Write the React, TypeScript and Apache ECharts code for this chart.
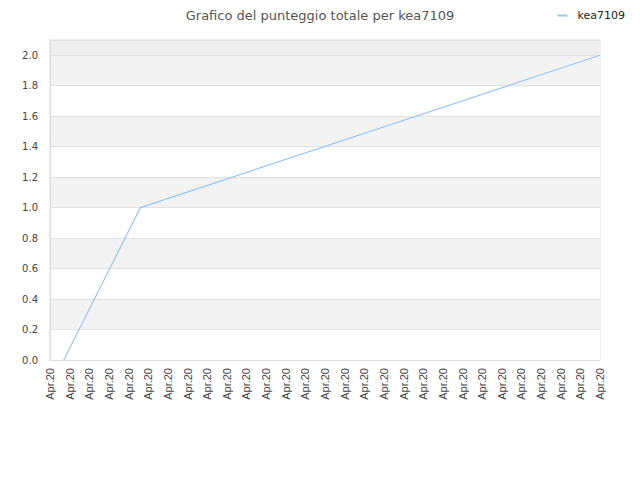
import * as echarts from 'echarts';
import React, { useEffect, useRef } from 'react';

const seriesName = 'kea7109';
const xLabels = Array.from({ length: 29 }, () => 'Apr.20');
const xPositions = [0.7, 4.6, 28];
const scores = [0, 1, 2];

const bandColors = ['#ffffff', '#f3f3f3', '#ffffff', '#f3f3f3', '#ffffff', '#f3f3f3',
  '#ffffff', '#f3f3f3', '#ffffff', '#f3f3f3', '#eeeeee'];

const App: React.FC = () => {
  const chartRef = useRef<HTMLDivElement>(null);

  useEffect(() => {
    const myChart = echarts.init(chartRef.current!, undefined, { renderer: 'svg' });

    const option = {
      animation: false,
      title: {
        text: 'Grafico del punteggio totale per ' + seriesName,
        left: 'center',
        top: -4,
        textStyle: { fontFamily: 'DejaVu Sans', fontSize: 13, fontWeight: 'normal', color: '#555', letterSpacing: 0.3 },
      },
      legend: {
        right: 2,
        top: -3,
        itemWidth: 10,
        itemHeight: 2,
        icon: 'rect',
        textStyle: { fontFamily: 'DejaVu Sans', fontSize: 11, color: '#222', padding: [0, 0, 0, 5] },
        data: [seriesName],
      },
      grid: {
        left: 42,
        right: 32,
        top: 32,
        bottom: 120,
        show: true,
        borderColor: '#dddddd',
        borderWidth: 1,
        backgroundColor: 'transparent',
      },
      xAxis: {
        type: 'value',
        min: 0,
        max: xLabels.length - 1,
        interval: 1,
        axisLine: { show: true, lineStyle: { color: '#dddddd' } },
        axisTick: { show: false },
        splitLine: { show: false },
        axisLabel: {
          rotate: 90,
          margin: 8,
          fontFamily: 'Liberation Sans',
          fontSize: 11,
          color: '#444',
          formatter: (v: number) => xLabels[Math.round(v)] ?? '',
        },
      },
      yAxis: {
        type: 'value',
        min: 0,
        max: 2.1,
        interval: 0.2,
        axisLine: { show: true, lineStyle: { color: '#dddddd' } },
        axisTick: { show: false },
        splitLine: { show: true, lineStyle: { color: '#e2e2e2' } },
        splitArea: { show: true, areaStyle: { color: bandColors } },
        axisLabel: {
          fontFamily: 'DejaVu Sans',
          fontSize: 10,
          color: '#444',
          margin: 12,
          formatter: (v: number) => (v > 2.05 ? '' : v.toFixed(1)),
        },
      },
      series: [
        {
          name: seriesName,
          type: 'line',
          data: xPositions.map((x, i) => [x, scores[i]]),
          showSymbol: false,
          symbol: 'none',
          lineStyle: { color: '#99c5f2', width: 1.2 },
          itemStyle: { color: '#99c5f2' },
        },
      ],
    };

    myChart.setOption(option);

    return () => {
      myChart.dispose();
    };
  }, []);

  return <div ref={chartRef} style={{ width: '624px', height: '472px' }} />;
};

export default App;
